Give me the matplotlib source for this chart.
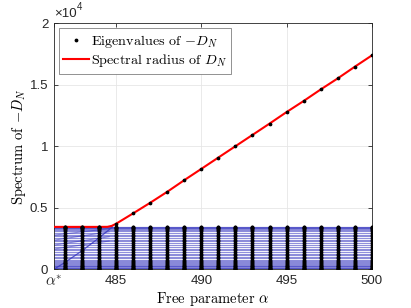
import numpy as np
import matplotlib
matplotlib.use("Agg")
import matplotlib.pyplot as plt
from matplotlib.lines import Line2D

plt.rcParams['mathtext.fontset'] = 'cm'
plt.rcParams['axes.unicode_minus'] = False

# free parameter values
alpha_star = 481.36
alpha_int = [482, 483, 484, 485, 486, 487, 488, 489, 490, 491,
             492, 493, 494, 495, 496, 497, 498, 499, 500]

# spectral radius of D_N (red curve)
alpha_red = [481.36, 482, 483, 484, 484.5, 484.75, 485, 486, 487, 488, 489,
             490, 491, 492, 493, 494, 495, 496, 497, 498, 499, 500]
rho_red = [3450, 3450, 3450, 3450, 3455, 3530, 3700, 4545, 5406, 6300, 7248,
           8166, 9090, 10010, 10930, 11850, 12790, 13690, 14630, 15530, 16480, 17400]

# eigenvalue levels that stay (nearly) flat
levels = [3450, 3420, 3380, 3330, 3260, 3180, 3080, 2960, 2830, 2700,
          2560, 2420, 2270, 2120, 1970, 1820, 1680, 1540, 1400, 1270,
          1140, 1020, 900, 790, 690, 600, 510, 430, 360, 295,
          235, 180, 135, 95, 60, 30, 10]

# eigenvalue that grows from zero at alpha*
alpha_diag = [481.36, 482, 483, 484, 484.8]
eig_diag = [0, 550, 1500, 2550, 3450]

# a few eigenvalues that tilt before alpha = 485
tilt_start = [2370, 1970, 1650, 2780]
tilt_end = [3050, 2650, 2300, 3300]
tilt_alpha = [481.36, 484.6]

xticks = [alpha_star, 485, 490, 495, 500]
xticklabels = [r'$\alpha^{*}$', '485', '490', '495', '500']
yticks = [0, 5000, 10000, 15000, 20000]
yticklabels = ['0', '0.5', '1', '1.5', '2']

fig = plt.figure(figsize=(4.11, 3.08), dpi=100)
ax = fig.add_axes([0.131, 0.1256, 0.774, 0.7985])

blue = (0.2, 0.2, 0.75)
alpha_all = [alpha_star] + alpha_int
for lv in levels:
    ax.plot(alpha_all, [lv] * len(alpha_all), color=blue, lw=0.8, alpha=0.55, zorder=2)
for s, e in zip(tilt_start, tilt_end):
    ax.plot(tilt_alpha, [s, e], color=blue, lw=0.8, alpha=0.55, zorder=2)
ax.plot(alpha_diag, eig_diag, color=blue, lw=0.9, alpha=0.8, zorder=2)

# eigenvalue dots at each integer alpha
for a in alpha_int:
    vals = list(levels)
    if a in alpha_red:
        vals.append(rho_red[alpha_red.index(a)])
    if a in alpha_diag:
        vals.append(eig_diag[alpha_diag.index(a)])
    ax.plot([a] * len(vals), vals, 'k.', ms=3.4, zorder=4)

ax.plot(alpha_red, rho_red, '-', color='red', lw=1.5, zorder=3)

ax.set_xlim(alpha_star, 500)
ax.set_ylim(0, 20000)
ax.set_xticks(xticks)
ax.set_xticklabels(xticklabels)
ax.set_yticks(yticks)
ax.set_yticklabels(yticklabels)
for lab in ax.get_xticklabels() + ax.get_yticklabels():
    lab.set_fontfamily('Liberation Sans')
    lab.set_fontsize(9.5)
ax.get_xticklabels()[0].set_fontsize(11)

ax.tick_params(direction='in', top=True, right=True, length=3, width=0.6,
               colors=(0.15, 0.15, 0.15), pad=4)
ax.grid(True, color=(0.9, 0.9, 0.9), lw=0.6)
ax.set_axisbelow(True)
for sp in ax.spines.values():
    sp.set_color((0.15, 0.15, 0.15))
    sp.set_linewidth(0.6)

ax.set_xlabel(r'Free parameter $\alpha$', fontfamily='cmr10', fontsize=10.5, labelpad=1)
ax.set_ylabel(r'Spectrum of $-D_N$', fontfamily='cmr10', fontsize=10.5, labelpad=1)

ax.text(0.0, 1.012, '\u00d710', transform=ax.transAxes, fontfamily='Liberation Sans',
        fontsize=9.5, ha='left', va='bottom', color=(0.15, 0.15, 0.15))
ax.text(0.073, 1.045, '4', transform=ax.transAxes, fontfamily='Liberation Sans',
        fontsize=7, ha='left', va='bottom', color=(0.15, 0.15, 0.15))

handles = [Line2D([], [], color='k', marker='.', ls='none', ms=3.5),
           Line2D([], [], color='red', lw=1.5)]
leg = ax.legend(handles, [r'Eigenvalues of $-D_N$', r'Spectral radius of $D_N$'],
                loc='upper left', fancybox=False, framealpha=1, edgecolor=(0.4, 0.4, 0.4),
                prop={'family': 'cmr10', 'size': 10.2}, handlelength=1.8,
                handletextpad=0.15, borderaxespad=0.35, borderpad=0.3, labelspacing=0.2)
leg.get_frame().set_linewidth(0.5)

fig.savefig('out.png', dpi=100)
